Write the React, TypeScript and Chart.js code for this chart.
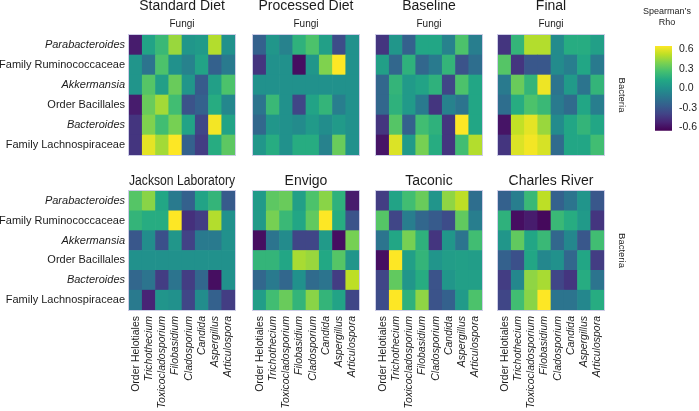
import React, { useEffect, useRef } from 'react';
import { Chart, registerables } from 'chart.js';

Chart.register(...registerables);

const FONT = "'Liberation Sans', Arial, Helvetica, sans-serif";
const TEXT = '#1c1c1c';
const FRAME = 'rgba(196,196,226,0.85)';

// ---------- labels ----------
const bacteria = [
  'Parabacteroides',
  'Family Ruminococcaceae',
  'Akkermansia',
  'Order Bacillales',
  'Bacteroides',
  'Family Lachnospiraceae',
];
const bacteriaItalic = [true, false, true, false, true, false];

const fungi = [
  'Order Helotiales',
  'Trichothecium',
  'Toxicocladosporium',
  'Filobasidium',
  'Cladosporium',
  'Candida',
  'Aspergillus',
  'Articulospora',
];
const fungiItalic = [false, true, true, true, true, true, true, true];

const topTitles = ['Standard Diet', 'Processed Diet', 'Baseline', 'Final'];
const bottomTitles = ['Jackson Laboratory', 'Envigo', 'Taconic', 'Charles River'];
const fungiSubtitle = 'Fungi';
const bacteriaAxisTitle = 'Bacteria';
const colorbarTitle = ['Spearman\u2019s', 'Rho'];

const RHO_MIN = -0.65;
const RHO_MAX = 0.65;
const rhoTicks = [-0.6, -0.3, 0, 0.3, 0.6];

// ---------- Spearman's rho values (rows = bacteria top->bottom, cols = fungi) ----------
const standardDiet = [
  [-0.55, 0.1, 0.22, 0.45, 0.03, 0.05, 0.5, 0.0],
  [0.02, -0.15, 0.28, 0.0, -0.08, 0.1, -0.25, -0.12],
  [0.02, 0.3, 0.08, 0.35, 0.03, -0.28, 0.08, 0.28],
  [-0.55, 0.35, 0.47, 0.25, -0.32, -0.25, 0.15, -0.05],
  [-0.45, 0.4, 0.25, 0.38, 0.1, -0.38, 0.63, 0.1],
  [-0.45, 0.6, 0.47, 0.65, -0.25, -0.42, 0.15, 0.32],
];

const processedDiet = [
  [-0.25, 0.03, -0.08, 0.18, 0.28, 0.08, -0.35, 0.0],
  [-0.45, 0.0, 0.0, -0.6, 0.03, 0.4, 0.65, 0.0],
  [0.0, 0.0, 0.0, 0.0, 0.0, 0.0, 0.0, 0.0],
  [-0.15, 0.22, 0.0, -0.38, 0.1, 0.2, -0.1, 0.0],
  [-0.22, 0.03, 0.0, -0.03, 0.05, -0.02, 0.05, 0.0],
  [0.03, 0.15, 0.0, 0.15, 0.15, -0.08, 0.35, 0.0],
];

const baseline = [
  [-0.45, 0.03, -0.25, 0.12, 0.12, -0.08, 0.28, -0.1],
  [0.08, -0.22, 0.18, -0.22, -0.12, 0.2, -0.32, -0.18],
  [-0.22, 0.2, 0.05, 0.1, 0.18, -0.38, 0.28, 0.12],
  [-0.22, 0.18, 0.05, -0.12, -0.45, -0.08, -0.15, 0.12],
  [-0.45, 0.3, -0.25, 0.25, 0.18, -0.45, 0.65, 0.12],
  [-0.58, 0.58, 0.05, 0.38, 0.15, -0.45, 0.25, 0.5],
];

const finalTime = [
  [-0.45, 0.2, 0.5, 0.5, -0.03, 0.15, 0.15, 0.08],
  [0.3, -0.45, -0.3, -0.3, -0.03, -0.1, 0.12, -0.12],
  [-0.12, 0.35, 0.2, 0.62, -0.15, 0.05, -0.15, 0.2],
  [-0.18, 0.15, 0.28, 0.22, -0.12, -0.2, 0.12, -0.1],
  [-0.58, 0.53, 0.6, 0.45, -0.03, 0.12, 0.2, 0.12],
  [-0.45, 0.58, 0.63, 0.57, -0.2, 0.12, 0.12, 0.25],
];

const jacksonLab = [
  [0.3, 0.42, 0.12, -0.12, -0.25, 0.1, 0.2, -0.28],
  [0.2, 0.15, 0.15, 0.65, -0.47, -0.42, 0.5, 0.0],
  [-0.3, -0.02, -0.33, 0.03, -0.4, -0.12, -0.12, 0.0],
  [0.0, 0.0, 0.0, 0.0, 0.0, 0.0, 0.0, 0.0],
  [-0.22, -0.15, -0.42, -0.15, -0.42, -0.22, -0.6, 0.0],
  [-0.12, -0.52, 0.02, 0.0, -0.38, -0.02, -0.25, -0.42],
];

const envigo = [
  [0.05, 0.32, 0.35, 0.08, 0.28, 0.42, 0.18, -0.55],
  [0.05, 0.38, 0.22, 0.12, 0.33, 0.65, 0.15, -0.32],
  [-0.6, -0.15, -0.03, -0.38, -0.38, 0.05, -0.6, 0.38],
  [0.2, 0.2, 0.12, 0.48, 0.45, 0.13, 0.3, 0.02],
  [-0.22, -0.12, -0.22, 0.0, -0.2, -0.15, -0.42, 0.52],
  [0.07, 0.25, 0.35, 0.2, 0.42, 0.2, 0.1, -0.38],
];

const taconic = [
  [-0.42, 0.1, 0.25, 0.35, 0.02, 0.43, 0.52, -0.18],
  [0.3, -0.38, -0.1, -0.22, -0.28, -0.35, 0.33, -0.1],
  [-0.15, 0.12, 0.38, 0.18, -0.45, 0.03, -0.15, 0.25],
  [-0.6, 0.65, 0.08, 0.2, 0.02, 0.07, 0.08, 0.07],
  [-0.38, 0.33, 0.03, 0.15, -0.32, 0.03, 0.08, 0.08],
  [-0.35, 0.65, 0.18, 0.43, -0.32, -0.25, 0.05, 0.28],
];

const charlesRiver = [
  [-0.25, -0.1, 0.22, 0.52, -0.25, -0.15, 0.02, -0.3],
  [0.18, -0.6, -0.55, -0.62, 0.22, 0.15, 0.05, -0.45],
  [0.03, 0.33, 0.12, 0.22, -0.22, -0.05, -0.3, 0.25],
  [-0.25, -0.33, 0.12, -0.05, 0.0, -0.22, 0.12, -0.42],
  [-0.42, -0.05, 0.43, 0.48, -0.38, -0.45, 0.15, -0.15],
  [-0.38, 0.25, 0.42, 0.65, -0.15, -0.15, -0.05, 0.15],
];

// marked cell (white dot) in Charles River
const charlesRiverMarks = [{ fungus: 'Trichothecium', bacterium: 'Order Bacillales' }];

// ---------- colour map ----------
const VIRIDIS = [
  '#440154', '#482475', '#414487', '#355f8d', '#2a788e', '#21918c',
  '#22a884', '#44bf70', '#7ad151', '#bddf26', '#fde725',
];

function hexToRgb(h: string) {
  const n = parseInt(h.slice(1), 16);
  return [(n >> 16) & 255, (n >> 8) & 255, n & 255];
}
const VIRIDIS_RGB = VIRIDIS.map(hexToRgb);

function viridis(v: number) {
  let t = (v - RHO_MIN) / (RHO_MAX - RHO_MIN);
  t = Math.max(0, Math.min(1, t));
  const p = t * (VIRIDIS_RGB.length - 1);
  const i = Math.min(Math.floor(p), VIRIDIS_RGB.length - 2);
  const f = p - i;
  const a = VIRIDIS_RGB[i];
  const b = VIRIDIS_RGB[i + 1];
  const c = a.map((x, k) => Math.round(x + (b[k] - x) * f));
  return `rgb(${c[0]},${c[1]},${c[2]})`;
}

// ---------- layout constants ----------
const COL_LEFTS = [129, 253, 376, 498];
const PANEL_W = 106;

const framePlugin = {
  id: 'frame',
  afterDatasetsDraw(chart: any) {
    const { ctx, chartArea: a } = chart;
    ctx.save();
    ctx.strokeStyle = FRAME;
    ctx.lineWidth = 1;
    ctx.strokeRect(Math.round(a.left) - 0.5, Math.round(a.top) - 0.5, Math.round(a.right - a.left) + 1, Math.round(a.bottom - a.top) + 1);
    ctx.restore();
  },
};

type PanelProps = {
  title: string;
  subtitle?: string;
  values: number[][];
  row: number;
  col: number;
  marks?: { fungus: string; bacterium: string }[];
};

function Panel({ title, subtitle, values, row, col, marks }: PanelProps) {
  const ref = useRef<HTMLCanvasElement>(null);
  const isLeft = col === 0;
  const isRight = col === 3;
  const chartLeft = COL_LEFTS[col];
  const yAxisW = isLeft ? chartLeft : 0;
  const padL = isLeft ? 0 : 5;
  const yRW = isRight ? 23 : 0;
  const padR = isRight ? 3 : 5;
  const canvasLeft = chartLeft - yAxisW - padL;
  const width = padL + yAxisW + PANEL_W + yRW + padR;
  const top = row === 0 ? -10 : 160;
  const height = row === 0 ? 170 : 251;
  const xAxisH = row === 0 ? 0 : 101;
  const padB = row === 0 ? 5 : 0;

  useEffect(() => {
    const datasets: any[] = [];
    for (let r = 0; r < bacteria.length; r++) {
      const rowIdx = bacteria.length - 1 - r;
      datasets.push({
        type: 'bar',
        label: bacteria[rowIdx],
        data: fungi.map(() => 1),
        backgroundColor: values[rowIdx].map(viridis),
        borderWidth: 0,
        barPercentage: 1,
        categoryPercentage: 1,
        stack: 'cells',
      });
    }
    if (marks && marks.length) {
      datasets.push({
        type: 'scatter',
        label: 'marks',
        data: marks.map((m) => ({ x: m.fungus, y: bacteria.length - 1 - bacteria.indexOf(m.bacterium) + 0.5 })),
        backgroundColor: '#ffffff',
        borderWidth: 0,
        pointRadius: 1.3,
        stack: 'marks',
      });
    }

    const scales: any = {
      x: {
        type: 'category',
        stacked: true,
        offset: true,
        display: row === 1,
        grid: { display: false, drawTicks: false },
        border: { display: false },
        ticks: {
          autoSkip: false,
          minRotation: 90,
          maxRotation: 90,
          padding: 6,
          color: TEXT,
          font: (c: any) => ({
            family: FONT,
            size: 10.5,
            style: fungiItalic[c.index] ? 'italic' : 'normal',
          }),
        },
        afterFit: (s: any) => {
          s.height = xAxisH;
          s.paddingLeft = 0;
          s.paddingRight = 0;
        },
      },
      y: {
        type: 'linear',
        stacked: true,
        position: 'left',
        min: 0,
        max: bacteria.length,
        display: isLeft,
        grid: { display: false, drawTicks: false },
        border: { display: false },
        ticks: {
          autoSkip: false,
          padding: 4,
          color: TEXT,
          font: (c: any) => {
            const v = c.tick ? c.tick.value : 0.5;
            const idx = bacteria.length - 1 - Math.floor(v);
            return { family: FONT, size: 11, style: bacteriaItalic[idx] ? 'italic' : 'normal' };
          },
          callback: (v: any) => bacteria[bacteria.length - 1 - Math.floor(Number(v))],
        },
        afterBuildTicks: (s: any) => {
          s.ticks = bacteria.map((_, i) => ({ value: bacteria.length - 1 - i + 0.5 }));
        },
        afterFit: (s: any) => {
          s.width = yAxisW;
          s.paddingTop = 0;
          s.paddingBottom = 0;
        },
      },
    };
    if (isRight) {
      scales.yR = {
        type: 'linear',
        position: 'right',
        min: 0,
        max: 1,
        display: true,
        grid: { display: false, drawTicks: false },
        border: { display: false },
        ticks: { display: false },
        title: {
          display: true,
          text: bacteriaAxisTitle,
          color: TEXT,
          font: { family: FONT, size: 9.5 },
          padding: { top: 0, bottom: 0 },
        },
        afterFit: (s: any) => {
          s.width = yRW;
          s.paddingTop = 0;
          s.paddingBottom = 0;
        },
      };
    }

    const chart = new Chart(ref.current as HTMLCanvasElement, {
      type: 'bar',
      data: { labels: fungi, datasets },
      options: {
        responsive: false,
        animation: false,
        events: [],
        layout: { padding: { left: padL, right: padR, top: 0, bottom: padB } },
        plugins: {
          legend: { display: false },
          tooltip: { enabled: false },
          title: {
            display: true,
            text: title,
            fullSize: false,
            color: TEXT,
            font: { family: FONT, size: 14, weight: 'normal', lineHeight: 1.2 },
            padding: row === 0 ? { top: 7.6, bottom: 0 } : { top: 12.6, bottom: 1.6 },
          },
          subtitle: {
            display: !!subtitle,
            text: subtitle || '',
            fullSize: false,
            color: TEXT,
            font: { family: FONT, size: 10, weight: 'normal', lineHeight: 1.2 },
            padding: { top: 4.3, bottom: 4.3 },
          },
        },
        scales,
      } as any,
      plugins: [framePlugin],
    } as any);
    return () => chart.destroy();
  }, []);

  return (
    <div style={{ position: 'absolute', left: canvasLeft, top, width, height }}>
      <canvas ref={ref} width={width} height={height} style={{ width, height, display: 'block' }} />
    </div>
  );
}

function ColorBar() {
  const ref = useRef<HTMLCanvasElement>(null);
  const left = 636;
  const width = 63;
  const height = 140;
  useEffect(() => {
    const chart = new Chart(ref.current as HTMLCanvasElement, {
      type: 'bar',
      data: {
        labels: ['rho'],
        datasets: [
          {
            data: [[RHO_MIN, RHO_MAX]],
            yAxisID: 'y',
            borderWidth: 0,
            barPercentage: 1,
            categoryPercentage: 1,
            backgroundColor: (ctx: any) => {
              const ch = ctx.chart;
              if (!ch.chartArea) return VIRIDIS[5];
              const ys = ch.scales.y;
              const g = ch.ctx.createLinearGradient(0, ys.getPixelForValue(RHO_MIN), 0, ys.getPixelForValue(RHO_MAX));
              VIRIDIS.forEach((c, i) => g.addColorStop(i / (VIRIDIS.length - 1), c));
              return g;
            },
          },
        ],
      },
      options: {
        responsive: false,
        animation: false,
        events: [],
        layout: { padding: { left: 0, right: 1, top: 0, bottom: 9.3 } },
        plugins: {
          legend: { display: false },
          tooltip: { enabled: false },
          title: {
            display: true,
            text: colorbarTitle,
            color: TEXT,
            font: { family: FONT, size: 9, weight: 'normal', lineHeight: 11 / 9 },
            padding: { top: 6, bottom: 18 },
          },
        },
        scales: {
          x: { display: false, offset: true },
          yL: {
            type: 'linear',
            position: 'left',
            min: 0,
            max: 1,
            display: true,
            grid: { display: false, drawTicks: false },
            border: { display: false },
            ticks: { display: false },
            afterFit: (s: any) => {
              s.width = 19;
              s.paddingTop = 0;
              s.paddingBottom = 0;
            },
          },
          y: {
            type: 'linear',
            position: 'right',
            min: RHO_MIN,
            max: RHO_MAX,
            grid: { display: false, drawTicks: false },
            border: { display: false },
            ticks: {
              padding: 7,
              color: TEXT,
              font: { family: FONT, size: 10.5 },
              callback: (v: any) => Number(v).toFixed(1),
            },
            afterBuildTicks: (s: any) => {
              s.ticks = rhoTicks.map((v) => ({ value: v }));
            },
            afterFit: (s: any) => {
              s.width = 26;
              s.paddingTop = 0;
              s.paddingBottom = 0;
            },
          },
        },
      } as any,
    } as any);
    return () => chart.destroy();
  }, []);
  return (
    <div style={{ position: 'absolute', left, top: 0, width, height }}>
      <canvas ref={ref} width={width} height={height} style={{ width, height, display: 'block' }} />
    </div>
  );
}

const topValues = [standardDiet, processedDiet, baseline, finalTime];
const bottomValues = [jacksonLab, envigo, taconic, charlesRiver];

export default function App() {
  return (
    <div
      style={{
        position: 'fixed',
        left: 0,
        top: 0,
        width: 699,
        height: 411,
        background: '#ffffff',
        overflow: 'hidden',
      }}
    >
      {topTitles.map((t, i) => (
        <Panel key={t} title={t} subtitle={fungiSubtitle} values={topValues[i]} row={0} col={i} />
      ))}
      {bottomTitles.map((t, i) => (
        <Panel
          key={t}
          title={t}
          values={bottomValues[i]}
          row={1}
          col={i}
          marks={t === 'Charles River' ? charlesRiverMarks : undefined}
        />
      ))}
      <ColorBar />
    </div>
  );
}
